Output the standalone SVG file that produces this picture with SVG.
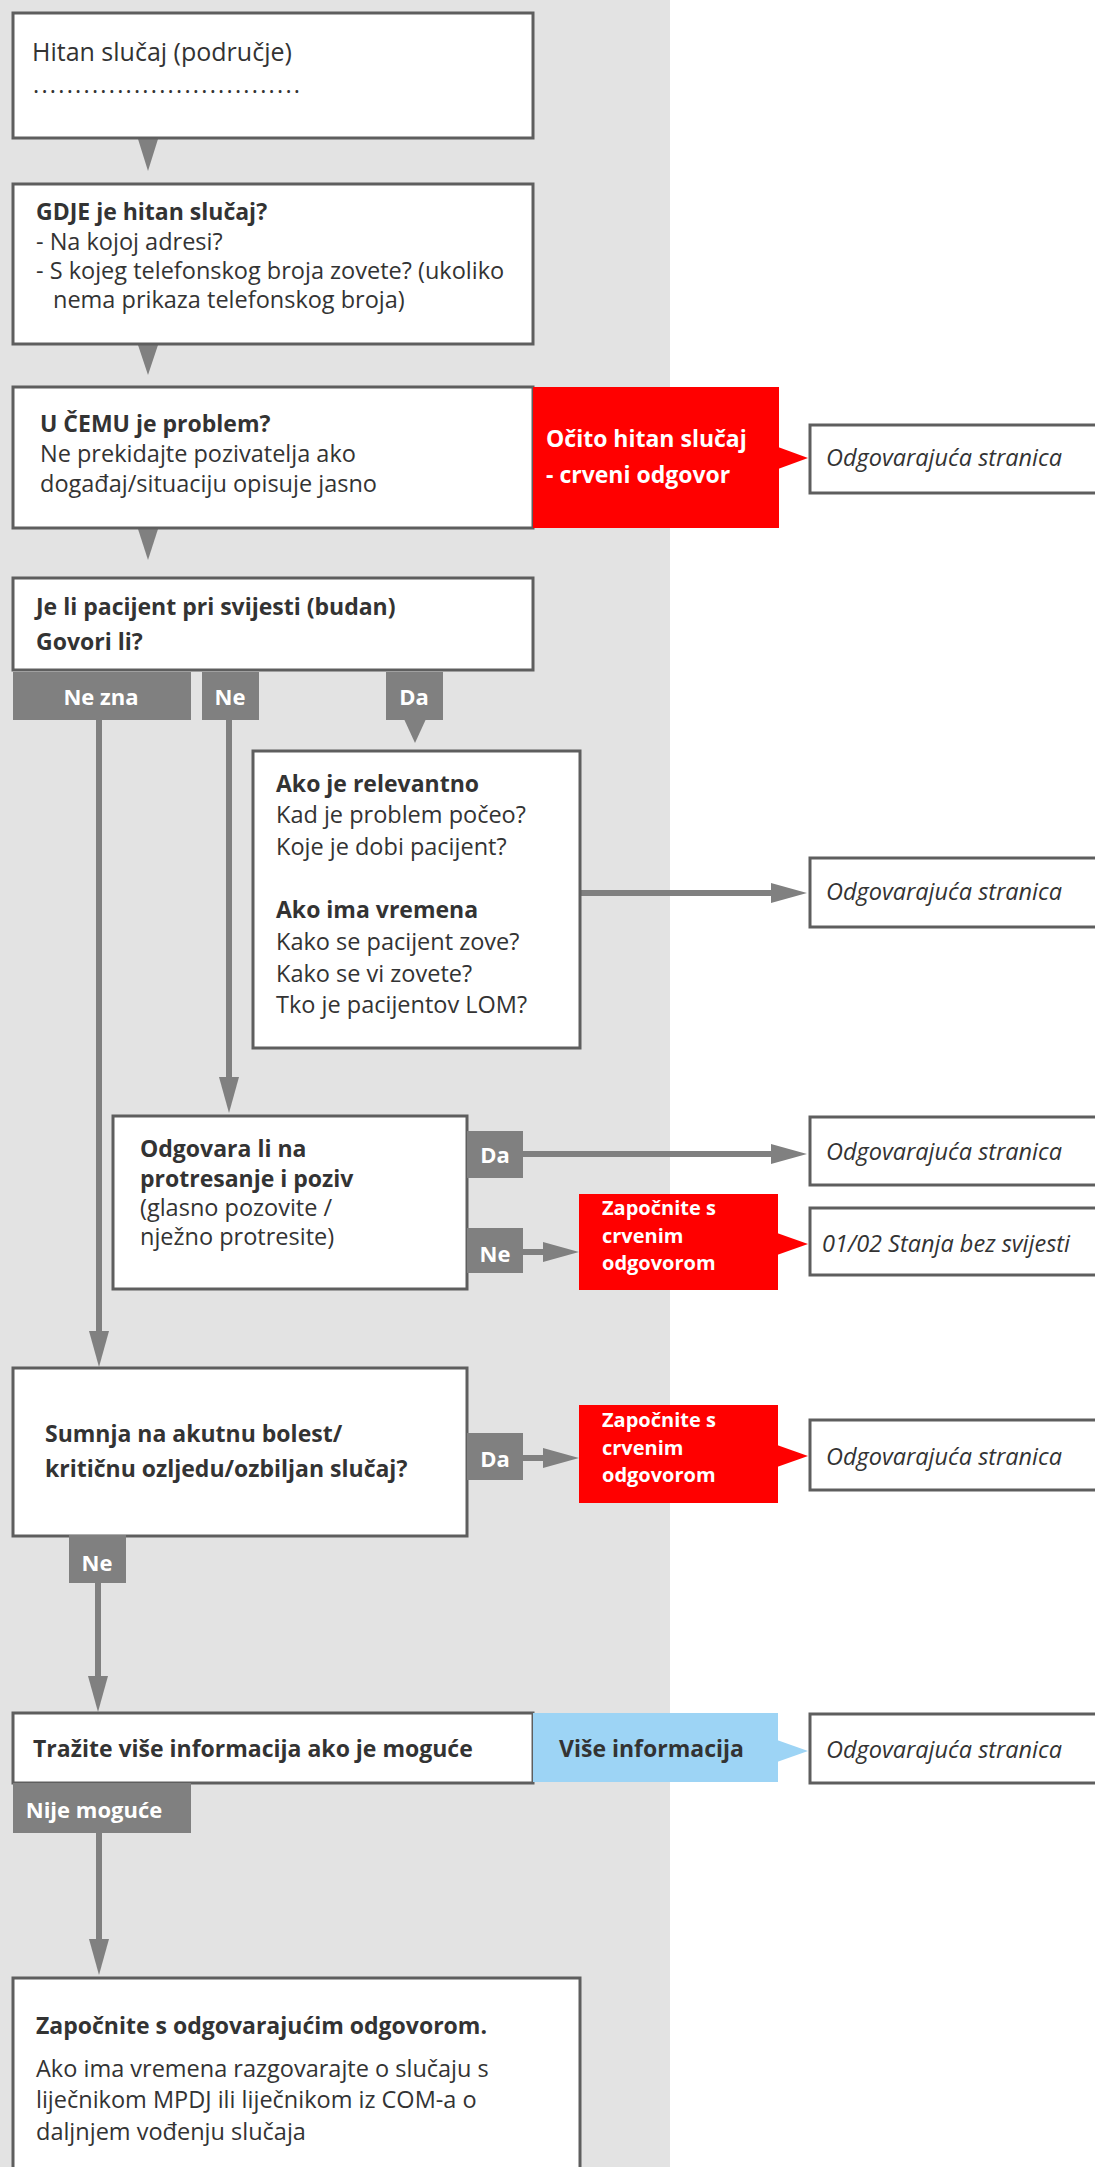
<svg xmlns="http://www.w3.org/2000/svg" width="1095" height="2167" viewBox="0 0 1095 2167">
<defs>
<style>
text{font-family:"Open Sans","Noto Sans","DejaVu Sans",sans-serif;fill:#333;font-size:23.5px}
.b{font-weight:bold;font-size:23px}
.i{font-style:italic}
.w{fill:#fff;font-weight:bold;font-size:23px}
.ws{fill:#fff;font-weight:bold;font-size:20px}
.lt{fill:#fff;font-weight:bold;font-size:22px;text-anchor:middle}
.box{fill:#fff;stroke:#5e5e5e;stroke-width:3}
.tag{fill:#808080}
.red{fill:#ff0000}
.blue{fill:#9dd4f5}
.conn{stroke:#808080;stroke-width:6;fill:none;marker-end:url(#ah)}
.ptr{fill:#808080}
</style>
<marker id="ah" markerUnits="userSpaceOnUse" markerWidth="36" markerHeight="20" refX="0" refY="10" orient="auto" viewBox="0 0 36 20"><path d="M0,0 L36,10 L0,20 z" fill="#808080"/></marker>
</defs>
<rect width="1095" height="2167" fill="#fff"/>
<rect width="670" height="2167" fill="#e3e3e3"/>

<g id="connectors">
<polygon class="ptr" points="138,139 158,139 148,171"/>
<polygon class="ptr" points="138,345 158,345 148,375"/>
<polygon class="ptr" points="138,529 158,529 148,560"/>
<polygon class="ptr" points="404,719 426,719 415,743"/>
<path class="conn" d="M99,720 V1331"/>
<path class="conn" d="M229,720 V1077"/>
<path class="conn" d="M580,893 H771"/>
<path class="conn" d="M523,1154 H771"/>
<path class="conn" d="M523,1252 H543"/>
<path class="conn" d="M523,1458 H543"/>
<path class="conn" d="M98,1583 V1676"/>
<path class="conn" d="M99,1833 V1939"/>
</g>

<g id="n-hitan">
<rect class="box" x="13" y="13" width="520" height="125"/>
<text x="32" y="61" style="font-size:25px">Hitan slučaj (područje)</text>
<text x="33" y="93" textLength="267" lengthAdjust="spacing">................................</text>
</g>

<g id="n-gdje">
<rect class="box" x="13" y="184" width="520" height="160"/>
<text class="b" x="36" y="220">GDJE je hitan slučaj?</text>
<text x="36" y="250">- Na kojoj adresi?</text>
<text x="36" y="279">- S kojeg telefonskog broja zovete? (ukoliko</text>
<text x="53" y="308">nema prikaza telefonskog broja)</text>
</g>

<g id="n-cemu">
<rect class="box" x="13" y="387" width="520" height="141"/>
<text class="b" x="40" y="432">U ČEMU je problem?</text>
<text x="40" y="462">Ne prekidajte pozivatelja ako</text>
<text x="40" y="492">događaj/situaciju opisuje jasno</text>
</g>

<g id="n-ocito">
<rect class="red" x="533" y="387" width="246" height="141"/>
<polygon class="red" points="778,447 808,458 778,469"/>
<text class="w" x="546" y="447">Očito hitan slučaj</text>
<text class="w" x="546" y="483">- crveni odgovor</text>
</g>

<g id="n-str1">
<rect class="box" x="810" y="425" width="300" height="68"/>
<text class="i" x="826" y="466">Odgovarajuća stranica</text>
</g>

<g id="n-svijest">
<rect class="box" x="13" y="578" width="520" height="92"/>
<text class="b" x="36" y="615">Je li pacijent pri svijesti (budan)</text>
<text class="b" x="36" y="650">Govori li?</text>
</g>

<g id="l-nezna"><rect class="tag" x="13" y="672" width="178" height="48"/><text class="lt" x="101" y="705">Ne zna</text></g>
<g id="l-ne1"><rect class="tag" x="202" y="672" width="57" height="48"/><text class="lt" x="230" y="705">Ne</text></g>
<g id="l-da1"><rect class="tag" x="386" y="672" width="57" height="48"/><text class="lt" x="414" y="705">Da</text></g>

<g id="n-relevantno">
<rect class="box" x="253" y="751" width="327" height="297"/>
<text class="b" x="276" y="792">Ako je relevantno</text>
<text x="276" y="823">Kad je problem počeo?</text>
<text x="276" y="855">Koje je dobi pacijent?</text>
<text class="b" x="276" y="918">Ako ima vremena</text>
<text x="276" y="950">Kako se pacijent zove?</text>
<text x="276" y="982">Kako se vi zovete?</text>
<text x="276" y="1013">Tko je pacijentov LOM?</text>
</g>

<g id="n-str2">
<rect class="box" x="810" y="858" width="300" height="69"/>
<text class="i" x="826" y="900">Odgovarajuća stranica</text>
</g>

<g id="n-odgovara">
<rect class="box" x="113" y="1116" width="354" height="173"/>
<text class="b" x="140" y="1157">Odgovara li na</text>
<text class="b" x="140" y="1187">protresanje i poziv</text>
<text x="140" y="1216">(glasno pozovite /</text>
<text x="140" y="1245">nježno protresite)</text>
</g>
<g id="l-da2"><rect class="tag" x="467" y="1131" width="56" height="47"/><text class="lt" x="495" y="1163">Da</text></g>
<g id="l-ne2"><rect class="tag" x="467" y="1228" width="56" height="45"/><text class="lt" x="495" y="1262">Ne</text></g>

<g id="n-str3">
<rect class="box" x="810" y="1117" width="300" height="68"/>
<text class="i" x="826" y="1160">Odgovarajuća stranica</text>
</g>

<g id="n-crveni1">
<rect class="red" x="579" y="1194" width="199" height="96"/>
<polygon class="red" points="777,1233 808,1244 777,1255"/>
<text class="ws" x="602" y="1215">Započnite s</text>
<text class="ws" x="602" y="1242.5">crvenim</text>
<text class="ws" x="602" y="1270">odgovorom</text>
</g>

<g id="n-str4">
<rect class="box" x="810" y="1208" width="300" height="67"/>
<text class="i" x="822" y="1252">01/02 Stanja bez svijesti</text>
</g>

<g id="n-sumnja">
<rect class="box" x="13" y="1368" width="454" height="168"/>
<text class="b" x="45" y="1442">Sumnja na akutnu bolest/</text>
<text class="b" x="45" y="1477">kritičnu ozljedu/ozbiljan slučaj?</text>
</g>
<g id="l-da3"><rect class="tag" x="467" y="1433" width="56" height="47"/><text class="lt" x="495" y="1467">Da</text></g>

<g id="n-crveni2">
<rect class="red" x="579" y="1405" width="199" height="98"/>
<polygon class="red" points="777,1445 808,1456 777,1467"/>
<text class="ws" x="602" y="1427">Započnite s</text>
<text class="ws" x="602" y="1454.5">crvenim</text>
<text class="ws" x="602" y="1482">odgovorom</text>
</g>

<g id="n-str5">
<rect class="box" x="810" y="1420" width="300" height="70"/>
<text class="i" x="826" y="1465">Odgovarajuća stranica</text>
</g>

<g id="l-ne3"><rect class="tag" x="69" y="1535" width="57" height="48"/><text class="lt" x="97" y="1571">Ne</text></g>

<g id="n-trazite">
<rect class="box" x="13" y="1713" width="520" height="70"/>
<text class="b" x="33" y="1757">Tražite više informacija ako je moguće</text>
</g>

<g id="n-vise">
<rect class="blue" x="533" y="1713" width="245" height="69"/>
<polygon class="blue" points="777,1740 808,1751 777,1762"/>
<text class="b" x="559" y="1757">Više informacija</text>
</g>

<g id="n-str6">
<rect class="box" x="810" y="1714" width="300" height="69"/>
<text class="i" x="826" y="1758">Odgovarajuća stranica</text>
</g>

<g id="l-nije"><rect class="tag" x="13" y="1783" width="178" height="50"/><text class="lt" x="94" y="1818">Nije moguće</text></g>

<g id="n-zapocnite">
<rect class="box" x="13" y="1978" width="567" height="210"/>
<text class="b" x="36" y="2034">Započnite s odgovarajućim odgovorom.</text>
<text x="36" y="2077">Ako ima vremena razgovarajte o slučaju s</text>
<text x="36" y="2108">liječnikom MPDJ ili liječnikom iz COM-a o</text>
<text x="36" y="2140">daljnjem vođenju slučaja</text>
</g>
</svg>
